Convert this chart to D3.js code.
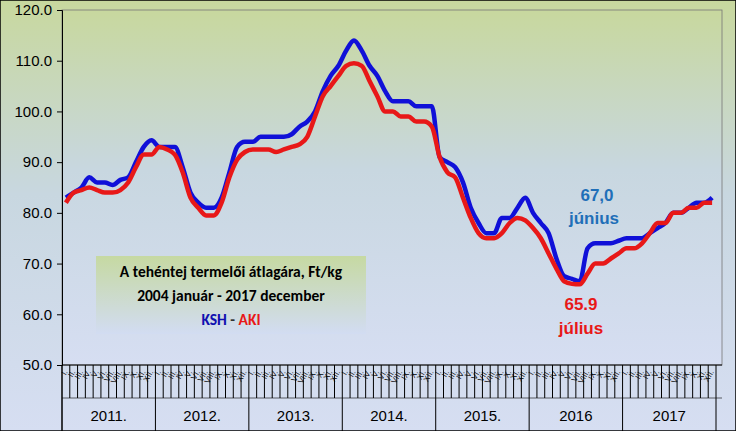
<!DOCTYPE html><html><head><meta charset="utf-8">
<script src="https://cdn.jsdelivr.net/npm/d3@7"></script>
<style>body{margin:0}svg{display:block}</style></head><body><svg id="c" width="736" height="431"></svg>
<script>
const years=["2011.","2012.","2013.","2014.","2015.","2016","2017"];
const monthLabels=["I.","II.","III.","IV.","V.","VI.","VII.","VIII.","IX.","X.","XI.","XII."];
const yTicks=[50,60,70,80,90,100,110,120];
const ksh=[83,84,85,87,86,86,85.5,86.5,87,90,93,94.3,
93,93,93,89,84,82,81,81,83,88,93,94,
94,95,95,95,95,95.5,97,98,100,104,107,109,
112,114,112,109,107,104,102,102,102,101,101,101,
91,90,89,86,81,78,76,76,79,79,81,83,
80,78,76,71,67.5,67,66.5,73,74,74,74,74.5,
75,75,75,76,77,78,80,80,81,82,82,83];
const aki=[82,84,84.5,85,84.5,84,84,84.5,86,89,91.5,91.5,
93,92.5,91.5,88,83,81,79.5,79.5,82,87,90.5,92,
92.5,92.5,92.5,92,92.5,93,93.5,95,99,103,105,107,
109,109.5,109,106,103,100,100,99,99,98,98,97,
91,88,87,83,79,76,75,75,76,78,79,78.5,
77,75,72,69,66.5,66,65.9,68,70,70,71,72,
73,73,74,76,78,78,80,80,81,81,82,82];
const svg=d3.select("#c");
const L=62,R=722,T=10,B=365;
const defs=svg.append("defs");
const g1=defs.append("linearGradient").attr("id","bg").attr("x1",0).attr("y1",0).attr("x2",0).attr("y2",1);
g1.append("stop").attr("offset","0").attr("stop-color","#c8d89e");
g1.append("stop").attr("offset","0.45").attr("stop-color","#c8d7e0");
g1.append("stop").attr("offset","1").attr("stop-color","#d6def2");
const g2=defs.append("linearGradient").attr("id","bx").attr("x1",0).attr("y1",0).attr("x2",0).attr("y2",1);
g2.append("stop").attr("offset","0").attr("stop-color","#c6d9a2");
g2.append("stop").attr("offset","1").attr("stop-color","#d2dcf2");
svg.append("rect").attr("width",736).attr("height",431).attr("fill","url(#bg)").attr("stroke","#000").attr("stroke-width",1.5);
svg.append("rect").attr("x",L).attr("y",T).attr("width",R-L).attr("height",B-T).attr("fill","url(#bg)").attr("stroke","#777").attr("stroke-width",0.8);
const n=ksh.length;
const x=d3.scaleLinear().domain([0,n]).range([L,R-6]);
const y=d3.scaleLinear().domain([50,120]).range([B,T]);
const ax=svg.append("g").attr("transform",`translate(${L},0)`).call(d3.axisLeft(y).tickValues(yTicks).tickFormat(d3.format(".1f")).tickSize(5));
ax.select(".domain").attr("stroke","#000");
ax.selectAll("text").attr("font-family","Arial, Liberation Sans").attr("font-size",15).attr("fill","#000").attr("dx",-2);
const tk=svg.append("g");
d3.range(n+1).forEach(i=>{tk.append("line").attr("x1",x(i)).attr("x2",x(i)).attr("y1",B).attr("y2",i%12==0?431:398).attr("stroke","#000").attr("stroke-width",1);});
svg.append("line").attr("x1",L).attr("x2",R).attr("y1",B).attr("y2",B).attr("stroke","#000");
svg.append("line").attr("x1",L).attr("x2",L).attr("y1",B).attr("y2",431).attr("stroke","#000");
svg.append("line").attr("x1",L).attr("x2",R).attr("y1",398).attr("y2",398).attr("stroke","#000").attr("stroke-width",0.6);
d3.range(n).forEach(i=>{tk.append("text").attr("transform",`translate(${x(i+0.5)+2},${372}) rotate(-60)`).attr("font-family","Arial").attr("font-size",8).attr("text-anchor","end").text(monthLabels[i%12]);});
years.forEach((yr,k)=>svg.append("text").attr("x",x(k*12+6)).attr("y",421).attr("text-anchor","middle").attr("font-family","Arial, Liberation Sans").attr("font-size",15).text(yr));
const line=d3.line().x((d,i)=>x(i+0.5)).y(d=>y(d)).curve(d3.curveMonotoneX);
svg.append("path").datum(ksh).attr("d",line).attr("fill","none").attr("stroke","#1010d8").attr("stroke-width",4.5);
svg.append("path").datum(aki).attr("d",line).attr("fill","none").attr("stroke","#e81818").attr("stroke-width",4.5);
svg.append("rect").attr("x",96).attr("y",256).attr("width",270).attr("height",78).attr("fill","url(#bx)");
const tf="Calibri, Carlito, 'Open Sans', sans-serif";
svg.append("text").attr("x",231).attr("y",277).attr("text-anchor","middle").attr("font-family",tf).attr("font-weight","bold").attr("font-size",15.5).text("A tehéntej termelői átlagára, Ft/kg");
svg.append("text").attr("x",231).attr("y",301).attr("text-anchor","middle").attr("font-family",tf).attr("font-weight","bold").attr("font-size",15.5).text("2004 január - 2017 december");
const t3=svg.append("text").attr("x",231).attr("y",325).attr("text-anchor","middle").attr("font-family",tf).attr("font-weight","bold").attr("font-size",15.5);
t3.append("tspan").attr("fill","#1010b0").text("KSH");t3.append("tspan").attr("fill","#333").text(" - ");t3.append("tspan").attr("fill","#e81818").text("AKI");
const af="Arial, Liberation Sans";
svg.append("text").attr("x",597).attr("y",201).attr("text-anchor","middle").attr("font-family",af).attr("font-weight","bold").attr("font-size",17).attr("fill","#1f6fb8").text("67,0");
svg.append("text").attr("x",594).attr("y",224).attr("text-anchor","middle").attr("font-family",af).attr("font-weight","bold").attr("font-size",17).attr("fill","#1f6fb8").text("június");
svg.append("text").attr("x",581).attr("y",310).attr("text-anchor","middle").attr("font-family",af).attr("font-weight","bold").attr("font-size",17).attr("fill","#e81818").text("65.9");
svg.append("text").attr("x",581).attr("y",334).attr("text-anchor","middle").attr("font-family",af).attr("font-weight","bold").attr("font-size",17).attr("fill","#e81818").text("július");
</script></body></html>
